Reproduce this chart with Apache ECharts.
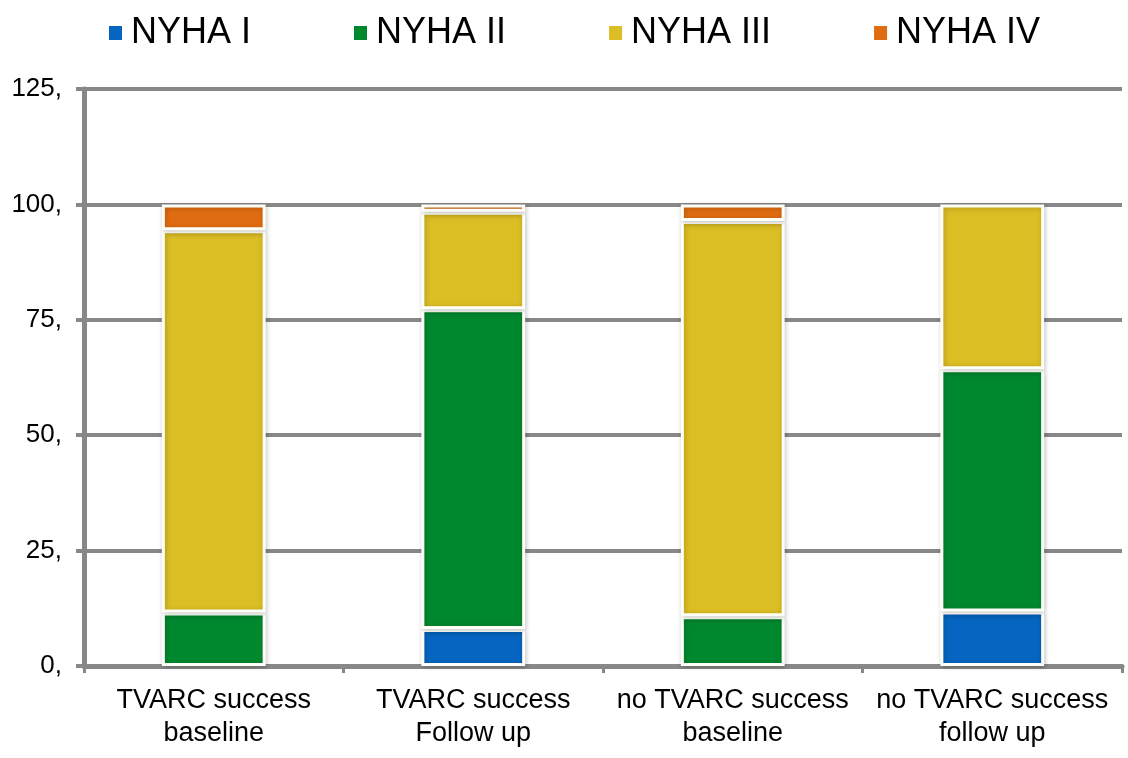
<!DOCTYPE html>
<html>
<head>
<meta charset="utf-8">
<script src="https://cdn.jsdelivr.net/npm/echarts@6/dist/echarts.min.js"></script>
<style>html,body{margin:0;padding:0;background:#fff}#c{width:1128px;height:758px}</style>
</head>
<body>
<div id="c"></div>
<script>
var categories = ['TVARC success\nbaseline', 'TVARC success\nFollow up', 'no TVARC success\nbaseline', 'no TVARC success\nfollow up'];
var nyha1 = [0, 8.0, 0, 11.8];
var nyha2 = [11.6, 69.3, 10.8, 52.5];
var nyha3 = [82.8, 21.1, 85.6, 35.7];
var nyha4 = [5.6, 1.6, 3.6, 0];
var seriesNames = ['NYHA I', 'NYHA II', 'NYHA III', 'NYHA IV'];
var yTicks = [0, 25, 50, 75, 100, 125];

var colors = ['#0565c0', '#00882e', '#dbbd24', '#e06c12'];
var font = 'Arial, "Liberation Sans", sans-serif';
var chart = echarts.init(document.getElementById('c'));
var all = [nyha1, nyha2, nyha3, nyha4];
function mk(i) {
  return {
    name: seriesNames[i], type: 'bar', stack: 'a', barWidth: '40%',
    data: all[i].map(function (v) { return v === 0 ? null : v; }),
    itemStyle: { color: colors[i], borderColor: '#fffffa', borderWidth: 3,
      shadowColor: 'rgba(0,0,0,0.22)', shadowBlur: 5, shadowOffsetX: 1, shadowOffsetY: 1 }
  };
}
chart.setOption({
  animation: false,
  color: colors,
  legend: {
    left: 109, top: 15, padding: 0, itemWidth: 13, itemHeight: 14, itemGap: 103,
    icon: 'rect',
    itemStyle: { borderWidth: 0, shadowBlur: 0, shadowOffsetX: 0, shadowOffsetY: 0 },
    textStyle: { fontSize: 36, fontFamily: font, color: '#000', padding: [0, 0, 0, 4] },
    data: seriesNames
  },
  grid: { left: 84, right: 6, top: 89, bottom: 92, containLabel: false },
  xAxis: {
    type: 'category', data: categories,
    axisLine: { lineStyle: { color: '#888', width: 5 } },
    axisTick: { show: true, length: 7, lineStyle: { color: '#888', width: 3 } },
    axisLabel: { fontSize: 27, fontFamily: font, color: '#000', margin: 18, lineHeight: 33, interval: 0 }
  },
  yAxis: {
    type: 'value', min: yTicks[0], max: yTicks[yTicks.length - 1], interval: 25,
    axisLine: { show: true, lineStyle: { color: '#888', width: 5 } },
    axisTick: { show: true, length: 8, lineStyle: { color: '#888', width: 4 } },
    splitLine: { lineStyle: { color: '#888', width: 4 } },
    axisLabel: { fontSize: 26, fontFamily: font, color: '#000', margin: 22,
      formatter: function (v) { return v + ','; } }
  },
  series: [mk(0), mk(1), mk(2), mk(3)]
});
</script>
</body>
</html>
